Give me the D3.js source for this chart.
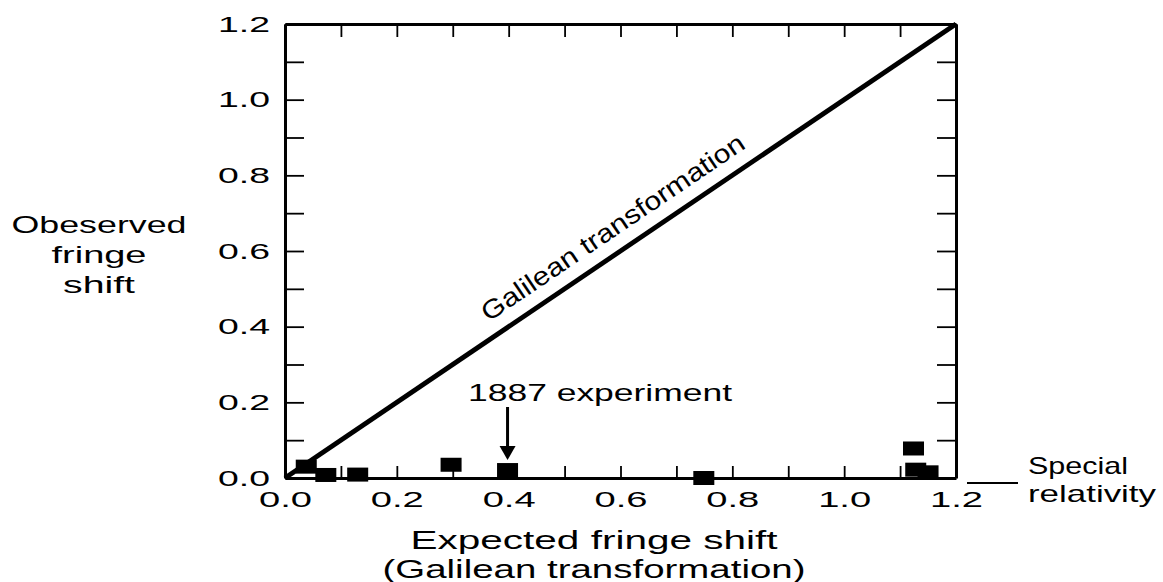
<!DOCTYPE html>
<html>
<head>
<meta charset="utf-8">
<script src="https://cdn.jsdelivr.net/npm/d3@7"></script>
<style>
  html, body { margin: 0; padding: 0; background: #fff; }
  svg { display: block; }
  text { font-family: "Liberation Sans", Arial, sans-serif; fill: #000; }
</style>
</head>
<body>
<svg id="chart" width="1163" height="582"></svg>
<script>
// ---- data ----
const expectedShift = [0.038, 0.073, 0.130, 0.297, 0.398, 0.749, 1.124, 1.128, 1.150];
const observedShift = [0.030, 0.008, 0.009, 0.035, 0.021, 0.000, 0.078, 0.022, 0.015];
const xTickValues = [0, 0.1, 0.2, 0.3, 0.4, 0.5, 0.6, 0.7, 0.8, 0.9, 1.0, 1.1, 1.2];
const yTickValues = [0, 0.1, 0.2, 0.3, 0.4, 0.5, 0.6, 0.7, 0.8, 0.9, 1.0, 1.1, 1.2];
const xTickLabels = ["0.0", "0.2", "0.4", "0.6", "0.8", "1.0", "1.2"];
const yTickLabels = ["0.0", "0.2", "0.4", "0.6", "0.8", "1.0", "1.2"];
const galileanLine = [[0, 0], [1.2, 1.2]];
const highlightIndex = 4; // 1887 experiment
const yTitleLines = ["Obeserved", "fringe", "shift"];
const xTitleLines = ["Expected fringe shift", "(Galilean transformation)"];
const lineLabel = "Galilean transformation";
const pointLabel = "1887 experiment";
const sideLabelLines = ["Special", "relativity"];

// ---- layout ----
const svg = d3.select("#chart");
const x = d3.scaleLinear().domain([0, 1.2]).range([285, 956]);
const y = d3.scaleLinear().domain([0, 1.2]).range([478, 24]);
const fmt = d3.format(".1f");

function stretch(sel, w) {
  sel.attr("textLength", w).attr("lengthAdjust", "spacingAndGlyphs");
}

// axes
const gB = svg.append("g").attr("transform", `translate(0,${y(0)})`)
  .call(d3.axisBottom(x).tickValues(xTickValues).tickSizeInner(-12).tickSizeOuter(0).tickPadding(13)
    .tickFormat(d => xTickLabels.includes(fmt(d)) && Math.round(d * 10) % 2 === 0 ? fmt(d) : ""));
const gT = svg.append("g").attr("transform", `translate(0,${y(1.2)})`)
  .call(d3.axisTop(x).tickValues(xTickValues).tickSizeInner(-13).tickSizeOuter(0).tickFormat(""));
const gL = svg.append("g").attr("transform", `translate(${x(0)},0)`)
  .call(d3.axisLeft(y).tickValues(yTickValues).tickSizeInner(-19).tickSizeOuter(0).tickPadding(15)
    .tickFormat(d => yTickLabels.includes(fmt(d)) && Math.round(d * 10) % 2 === 0 ? fmt(d) : ""));
const gR = svg.append("g").attr("transform", `translate(${x(1.2)},0)`)
  .call(d3.axisRight(y).tickValues(yTickValues).tickSizeInner(-19).tickSizeOuter(0).tickFormat(""));

[gB, gT, gL, gR].forEach(g => {
  g.select(".domain").attr("stroke", "#000").attr("stroke-width", 3);
  g.selectAll(".tick line").attr("stroke", "#000").attr("stroke-width", 1.8);
  g.selectAll("text").attr("font-family", "Liberation Sans, Arial, sans-serif")
    .attr("font-size", 22).attr("fill", "#000");
});
gB.selectAll(".tick text").each(function () { if (this.textContent) stretch(d3.select(this), 53); });
gL.selectAll(".tick text").each(function () { if (this.textContent) stretch(d3.select(this), 52); });

// Galilean transformation line
svg.append("path")
  .datum(galileanLine)
  .attr("d", d3.line().x(d => x(d[0])).y(d => y(d[1])))
  .attr("stroke", "#000").attr("stroke-width", 4.8).attr("fill", "none");

const ang = Math.atan2(y(1.2) - y(0), x(1.2) - x(0)) * 180 / Math.PI;
const lt = 0.61;
svg.append("text")
  .attr("transform", `translate(${x(lt)},${y(lt)}) rotate(${ang})`)
  .attr("y", -15)
  .attr("text-anchor", "middle")
  .attr("font-size", 26)
  .text(lineLabel)
  .call(stretch, 312);

// data squares
svg.append("g").selectAll("rect")
  .data(expectedShift.map((e, i) => [e, observedShift[i]]))
  .join("rect")
  .attr("x", d => x(d[0]) - 10.5)
  .attr("y", d => y(d[1]) - 7)
  .attr("width", 21).attr("height", 14)
  .attr("fill", "#000");

// 1887 annotation
const hx = x(expectedShift[highlightIndex]);
const hy = y(observedShift[highlightIndex]);
svg.append("text")
  .attr("x", 468).attr("y", 401)
  .attr("font-size", 24)
  .text(pointLabel)
  .call(stretch, 264);
svg.append("line")
  .attr("x1", hx).attr("x2", hx)
  .attr("y1", 407).attr("y2", hy - 20)
  .attr("stroke", "#000").attr("stroke-width", 3);
svg.append("path")
  .attr("d", `M${hx - 8},${hy - 24} L${hx + 8},${hy - 24} L${hx},${hy - 10} Z`)
  .attr("fill", "#000");

// Special relativity
svg.append("line")
  .attr("x1", 967).attr("x2", 1018).attr("y1", 483).attr("y2", 483)
  .attr("stroke", "#000").attr("stroke-width", 2);
const sideW = [100, 128];
svg.append("g").selectAll("text").data(sideLabelLines).join("text")
  .attr("x", 1028).attr("y", (d, i) => 474 + i * 28)
  .attr("font-size", 24)
  .text(d => d)
  .each(function (d, i) { stretch(d3.select(this), sideW[i]); });

// y title
const yW = [175, 95, 72];
svg.append("g").selectAll("text").data(yTitleLines).join("text")
  .attr("x", 99).attr("y", (d, i) => 233 + i * 30)
  .attr("text-anchor", "middle")
  .attr("font-size", 24)
  .text(d => d)
  .each(function (d, i) { stretch(d3.select(this), yW[i]); });

// x title
const xW = [367, 423];
svg.append("g").selectAll("text").data(xTitleLines).join("text")
  .attr("x", 594).attr("y", (d, i) => 549 + i * 29)
  .attr("text-anchor", "middle")
  .attr("font-size", 25)
  .text(d => d)
  .each(function (d, i) { stretch(d3.select(this), xW[i]); });
</script>
</body>
</html>
